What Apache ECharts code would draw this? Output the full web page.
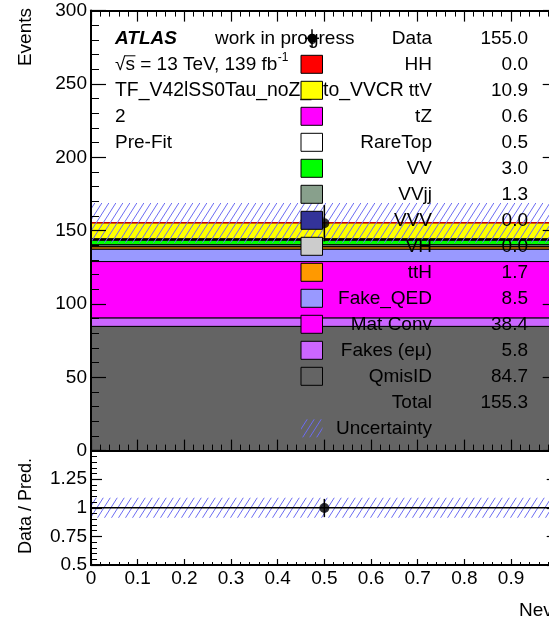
<!DOCTYPE html>
<html>
<head>
<meta charset="utf-8">
<script src="https://cdn.jsdelivr.net/npm/echarts@6/dist/echarts.min.js"></script>
<style>
html,body{margin:0;padding:0;background:#fff;overflow:hidden;}
#c{width:549px;height:622px;}
</style>
</head>
<body>
<div id="c"></div>
<script>
// ---------------- data ----------------
const sampleNames  = ['HH','ttV','tZ','RareTop','VV','VVjj','VVV','VH','ttH','Fake_QED','Mat Conv','Fakes (e\u03bc)','QmisID'];
const sampleYields = [0.0, 10.9, 0.6, 0.5, 3.0, 1.3, 0.0, 0.0, 1.7, 8.5, 38.4, 5.8, 84.7];
const sampleColors = ['#ff0000','#ffff00','#ff00ff','#ffffff','#00ff00','#88a08c','#333399','#cccccc','#ff9900','#9999ff','#ff00ff','#cc66ff','#646464'];
const dataX   = [0.5];
const dataY   = [155.0];
const dataErr = [12.4];
const totalYield = 155.3;
const totalUnc   = 13.5;
const legendDataText = '155.0';

// ---------------- layout ----------------
const FONT = '"Liberation Sans", Arial, Helvetica, sans-serif';
const FS = 19;
const X0 = 91, XW = 466.7;
const MAIN_TOP = 10.6, MAIN_H = 440;
const RAT_TOP = 450.6, RAT_H = 114.4;

function makeHatch(){
  const W = 7, H = 11;
  const c = document.createElement('canvas');
  c.width = W; c.height = H;
  const g = c.getContext('2d');
  g.strokeStyle = '#6c6cf2';
  g.lineWidth = 1;
  for (const n of [0,1,2]) {
    g.beginPath();
    g.moveTo(n*W, 0);
    g.lineTo((n-1)*W, H);
    g.stroke();
  }
  return c;
}
const hatch = makeHatch();
const hatchFill = {image: hatch, repeat: 'repeat'};

function textW(str, size, weight, style){
  const c = document.createElement('canvas').getContext('2d');
  c.font = (style||'') + ' ' + (weight||'') + ' ' + size + 'px ' + FONT;
  return c.measureText(str).width;
}

// ---------------- stack ----------------
const stackData = [];
{
  let cum = 0;
  for (let i = sampleYields.length - 1; i >= 0; i--) {
    const lo = cum, hi = cum + sampleYields[i];
    stackData.push([0, lo, 1, hi, i]);
    cum = hi;
  }
}

function rectItem(api, style){
  const p0 = api.coord([api.value(0), api.value(1)]);
  const p1 = api.coord([api.value(2), api.value(3)]);
  return {type:'rect', shape:{x:p0[0], y:p1[1], width:p1[0]-p0[0], height:p0[1]-p1[1]}, style: style};
}

const ratioY = dataY.map(v => v / totalYield);
const ratioErr = dataErr.map(v => v / totalYield);
const ratioUnc = totalUnc / totalYield;

// ---------------- axes ----------------
function xAx(grid, pos, showLabel, major, minor){
  return {
    gridIndex: grid, type:'value', position: pos, min:0, max:1, interval:0.1, z:10,
    axisLine:{show:true, onZero:false, lineStyle:{color:'#000', width:2}},
    axisTick:{show:true, inside:true, length:major, lineStyle:{color:'#000', width:1.2}},
    minorTick:{show:true, splitNumber:5, length:minor, lineStyle:{color:'#000', width:1}},
    splitLine:{show:false}, minorSplitLine:{show:false},
    axisLabel:{show:showLabel, color:'#000', fontSize:FS, fontFamily:FONT, margin:4,
      formatter: v => String(Math.round(v*10)/10)}
  };
}
function yAx(grid, pos, min, max, interval, showLabel, major, minor, showMax){
  return {
    gridIndex: grid, type:'value', position: pos, min:min, max:max, interval:interval, z:10,
    axisLine:{show:true, onZero:false, lineStyle:{color:'#000', width:2}},
    axisTick:{show:true, inside:true, length:major, lineStyle:{color:'#000', width:1.2}},
    minorTick:{show:true, splitNumber:5, length:minor, lineStyle:{color:'#000', width:1}},
    splitLine:{show:false}, minorSplitLine:{show:false},
    axisLabel:{show:showLabel, color:'#000', fontSize:FS, fontFamily:FONT, margin:4,
      showMaxLabel: showMax, showMinLabel: true}
  };
}

// ---------------- graphic (texts + legend) ----------------
const G = [];
function txt(x, y, s, opts){
  opts = opts || {};
  G.push({type:'text', x:x, y:y, z:100, rotation: opts.rotation || 0,
    style:{text:s, fill:'#000', font:(opts.fontStyle||'') + ' ' + (opts.fontWeight||'') + ' ' + (opts.size||FS) + 'px ' + FONT,
      align: opts.align || 'left', verticalAlign: opts.va || 'middle'}});
}
const ROW0 = 38.3, DROW = 26;
const LX = 115;
txt(LX, ROW0, 'ATLAS', {fontWeight:'bold', fontStyle:'italic'});
txt(215, ROW0, 'work in progress');
// sqrt(s) line
{
  const s1 = '\u221as = 13 TeV, 139 fb';
  txt(LX, ROW0 + DROW, s1);
  const w = textW(s1, FS);
  txt(LX + w + 0.5, ROW0 + DROW - 7, '-1', {size: 12});
  const wr = textW('\u221a', FS), ws = textW('s', FS);
  G.push({type:'line', z:100, shape:{x1:LX + wr - 0.5, y1:ROW0 + DROW - 8.5, x2:LX + wr + ws + 0.5, y2:ROW0 + DROW - 8.5},
    style:{stroke:'#000', lineWidth:1}});
}
txt(LX, ROW0 + 2*DROW, 'TF_V42lSS0Tau_noZ_Zto_VVCR', {size:19.4});
txt(LX, ROW0 + 3*DROW, '2');
txt(LX, ROW0 + 4*DROW, 'Pre-Fit');

const BOX_X = 301, BOX_W = 21.5, BOX_H = 18;
const NAME_X = 432, VAL_X = 528;
// Data row
G.push({type:'line', z:100, shape:{x1:312, y1:ROW0-9, x2:312, y2:ROW0+9}, style:{stroke:'#000', lineWidth:1.5}});
G.push({type:'line', z:100, shape:{x1:305, y1:ROW0, x2:319, y2:ROW0}, style:{stroke:'#000', lineWidth:1.5}});
G.push({type:'circle', z:101, shape:{cx:312, cy:ROW0, r:4.6}, style:{fill:'#000'}});
txt(NAME_X, ROW0, 'Data', {align:'right'});
txt(VAL_X, ROW0, legendDataText, {align:'right'});
// samples
sampleNames.forEach((n, i) => {
  const y = ROW0 + (i+1)*DROW;
  G.push({type:'rect', z:100, shape:{x:BOX_X, y:y - BOX_H/2, width:BOX_W, height:BOX_H},
    style:{fill:sampleColors[i], stroke:'#000', lineWidth:1}});
  txt(NAME_X, y, n, {align:'right'});
  txt(VAL_X, y, sampleYields[i].toFixed(1), {align:'right'});
});
{
  const yT = ROW0 + 14*DROW;
  txt(NAME_X, yT, 'Total', {align:'right'});
  txt(VAL_X, yT, totalYield.toFixed(1), {align:'right'});
  const yU = ROW0 + 15*DROW;
  G.push({type:'rect', z:100, shape:{x:BOX_X, y:yU - BOX_H/2, width:BOX_W, height:BOX_H}, style:{fill:hatchFill}});
  txt(NAME_X, yU, 'Uncertainty', {align:'right'});
}
// axis titles
txt(26, 8, 'Events', {rotation: Math.PI/2, align:'right'});
txt(26, 506, 'Data / Pred.', {rotation: Math.PI/2, align:'center', size:18});
txt(519, 611, 'Nevents');

// ---------------- chart ----------------
const chart = echarts.init(document.getElementById('c'), null, {renderer:'canvas'});
chart.setOption({
  animation:false,
  backgroundColor:'#fff',
  grid:[
    {left:X0, top:MAIN_TOP, width:XW, height:MAIN_H, containLabel:false, outerBoundsMode:'none'},
    {left:X0, top:RAT_TOP, width:XW, height:RAT_H, containLabel:false, outerBoundsMode:'none'}
  ],
  xAxis:[
    xAx(0,'bottom',false,11,6),
    xAx(0,'top',false,11,6),
    xAx(1,'bottom',true,6,3)
  ],
  yAxis:[
    yAx(0,'left',0,300,50,true,15,8,true),
    yAx(0,'right',0,300,50,false,15,8,true),
    yAx(1,'left',0.5,1.5,0.25,true,11,6,false),
    yAx(1,'right',0.5,1.5,0.25,false,11,6,false)
  ],
  series:[
    {type:'custom', xAxisIndex:0, yAxisIndex:0, z:2, data:stackData,
      renderItem:(p, api) => {
        const idx = api.value(4);
        return rectItem(api, {fill:sampleColors[idx], stroke: idx === 0 ? '#cc0000' : '#000', lineWidth: idx === 0 ? 1.5 : 1});
      }},
    {type:'custom', xAxisIndex:0, yAxisIndex:0, z:3, data:[[0, totalYield-totalUnc, 1, totalYield+totalUnc]],
      renderItem:(p, api) => rectItem(api, {fill:hatchFill})},
    {type:'custom', xAxisIndex:0, yAxisIndex:0, z:4, data:dataX.map((x,i)=>[x, dataY[i]-dataErr[i], x, dataY[i]+dataErr[i]]),
      renderItem:(p, api) => {
        const a = api.coord([api.value(0), api.value(1)]), b = api.coord([api.value(2), api.value(3)]);
        return {type:'line', shape:{x1:a[0], y1:a[1], x2:b[0], y2:b[1]}, style:{stroke:'#000', lineWidth:1.5}};
      }},
    {type:'scatter', xAxisIndex:0, yAxisIndex:0, z:5, symbol:'circle', symbolSize:10,
      itemStyle:{color:'#000'}, data:dataX.map((x,i)=>[x, dataY[i]])},
    // ratio
    {type:'custom', xAxisIndex:2, yAxisIndex:2, z:3, data:[[0, 1-ratioUnc, 1, 1+ratioUnc]],
      renderItem:(p, api) => rectItem(api, {fill:hatchFill})},
    {type:'custom', xAxisIndex:2, yAxisIndex:2, z:4, data:[[0, 1, 1, 1]],
      renderItem:(p, api) => {
        const a = api.coord([api.value(0), api.value(1)]), b = api.coord([api.value(2), api.value(3)]);
        return {type:'line', shape:{x1:a[0], y1:a[1], x2:b[0], y2:b[1]}, style:{stroke:'#000', lineWidth:1.5}};
      }},
    {type:'custom', xAxisIndex:2, yAxisIndex:2, z:5, data:dataX.map((x,i)=>[x, ratioY[i]-ratioErr[i], x, ratioY[i]+ratioErr[i]]),
      renderItem:(p, api) => {
        const a = api.coord([api.value(0), api.value(1)]), b = api.coord([api.value(2), api.value(3)]);
        return {type:'line', shape:{x1:a[0], y1:a[1], x2:b[0], y2:b[1]}, style:{stroke:'#000', lineWidth:1.5}};
      }},
    {type:'scatter', xAxisIndex:2, yAxisIndex:2, z:6, symbol:'circle', symbolSize:10,
      itemStyle:{color:'#000'}, data:dataX.map((x,i)=>[x, ratioY[i]])}
  ],
  graphic: G
});
</script>
</body>
</html>
